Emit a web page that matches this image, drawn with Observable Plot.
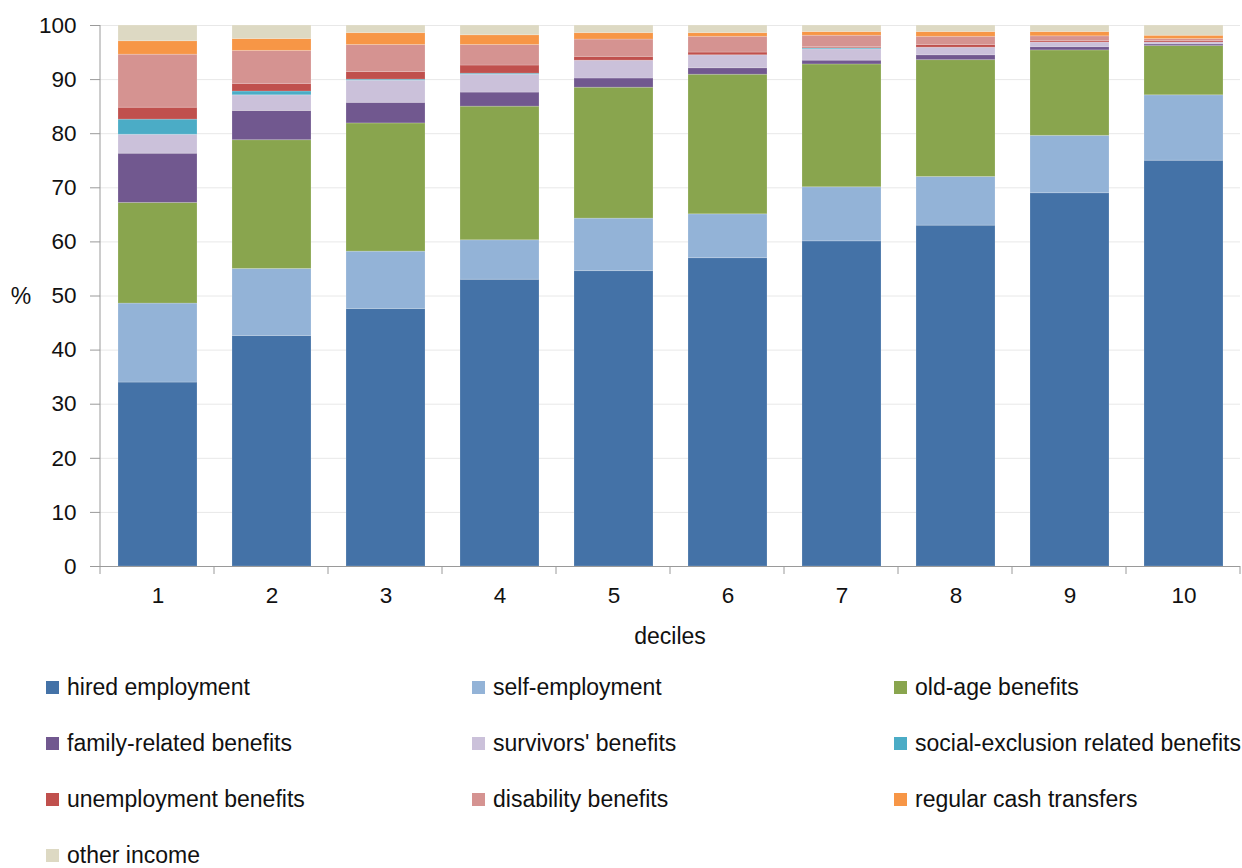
<!DOCTYPE html>
<html><head><meta charset="utf-8">
<script src="https://cdn.jsdelivr.net/npm/d3@7"></script>
<script src="https://cdn.jsdelivr.net/npm/@observablehq/plot@0.6"></script>
<style>
body{margin:0;background:#fff;font-family:"Liberation Sans",Arial,sans-serif;color:#111;}
#chart svg{display:block;}
#legend{display:grid;grid-template-columns:426px 422px 320px;grid-auto-rows:56px;padding-left:46px;width:1196px;margin-top:-1px;}
.item{display:flex;align-items:center;font-size:23px;line-height:24px;white-space:nowrap;}
.sw{width:13px;height:13px;margin-right:8px;flex:none;}
</style>
</head><body>
<div id="chart"></div>
<div id="legend"></div>
<script>
const deciles = ["1","2","3","4","5","6","7","8","9","10"];
const seriesNames = ["hired employment","self-employment","old-age benefits","family-related benefits","survivors' benefits","social-exclusion related benefits","unemployment benefits","disability benefits","regular cash transfers","other income"];
const seriesColors = ["#4472A7","#93B3D7","#89A54E","#71588F","#CBC1DA","#4BACC6","#C0504D","#D59391","#F79646","#DDD9C3"];
const hired      = [34.0, 42.6, 47.6, 53.0, 54.6, 57.0, 60.1, 63.0, 69.0, 75.0];
const selfEmp    = [14.6, 12.4, 10.6, 7.3, 9.7, 8.1, 10.0, 9.0, 10.6, 12.1];
const oldAge     = [18.6, 23.8, 23.7, 24.7, 24.2, 25.8, 22.7, 21.6, 15.8, 9.1];
const family     = [9.1, 5.4, 3.8, 2.6, 1.7, 1.2, 0.7, 0.9, 0.6, 0.3];
const survivors  = [3.5, 2.9, 4.1, 3.3, 3.3, 2.4, 2.1, 1.4, 0.85, 0.35];
const social     = [2.8, 0.7, 0.2, 0.2, 0.0, 0.0, 0.2, 0.0, 0.0, 0.0];
const unemp      = [2.2, 1.4, 1.4, 1.5, 0.7, 0.5, 0.2, 0.5, 0.25, 0.25];
const disability = [9.8, 6.1, 5.0, 3.8, 3.2, 2.9, 2.1, 1.5, 0.9, 0.4];
const cash       = [2.5, 2.2, 2.2, 1.8, 1.2, 0.7, 0.7, 0.9, 0.8, 0.6];
const other      = [2.9, 2.5, 1.4, 1.8, 1.4, 1.4, 1.2, 1.2, 1.2, 1.9];
const yTicks = [0,10,20,30,40,50,60,70,80,90,100];

const seriesValues = [hired, selfEmp, oldAge, family, survivors, social, unemp, disability, cash, other];
const rows = [];
seriesValues.forEach((vals, s) => vals.forEach((v, i) => rows.push({decile: deciles[i], series: seriesNames[s], value: v})));

const W = 1242, H = 660;
const plot = Plot.plot({
  width: W, height: H,
  marginTop: 25, marginBottom: 94, marginLeft: 100, marginRight: 2,
  style: {fontFamily: '"Liberation Sans", Arial, sans-serif', fontSize: "22px", color: "#111", background: "#fff"},
  x: {domain: deciles, paddingInner: 0.31, paddingOuter: 0.155, label: null},
  y: {domain: [0, 100], label: null},
  color: {domain: seriesNames, range: seriesColors},
  marks: [
    Plot.gridY(yTicks, {stroke: "#e8e8e8", strokeOpacity: 1}),
    Plot.barY(rows, {x: "decile", y: "value", fill: "series", order: seriesNames, stroke: "#fff", strokeOpacity: 0.18, strokeWidth: 1}),
    Plot.ruleY([0], {stroke: "#9a9a9a"}),
    Plot.axisY(yTicks, {tickSize: 10, tickPadding: 14, stroke: "#9a9a9a", fontSize: 22.5, label: null}),
    Plot.axisX({tickSize: 0, tickPadding: 21, fontSize: 22.5, label: null})
  ]
});

// Excel-style axis line and between-category tick marks, from the library's scales
const xs = plot.scale("x"), ys = plot.scale("y");
const svg = d3.select(plot);
const x0 = xs.range[0], x1 = xs.range[1];
const yBottom = ys.apply(0), yTop = ys.apply(100);
svg.append("line").attr("x1", x0).attr("x2", x0).attr("y1", yTop).attr("y2", yBottom).attr("stroke", "#9a9a9a");
for (let k = 0; k <= deciles.length; k++) {
  const xx = x0 + k * xs.step;
  svg.append("line").attr("x1", xx).attr("x2", xx).attr("y1", yBottom).attr("y2", yBottom + 8).attr("stroke", "#9a9a9a");
}
svg.append("text").attr("x", 21).attr("y", ys.apply(50)).attr("dy", "0.35em").attr("text-anchor", "middle")
  .attr("font-size", 23).attr("fill", "#111").text("%");
svg.append("text").attr("x", (x0 + x1) / 2).attr("y", 636).attr("dy", "0.35em").attr("text-anchor", "middle")
  .attr("font-size", 23).attr("fill", "#111").text("deciles");

document.getElementById("chart").appendChild(plot);

const legend = d3.select("#legend");
seriesNames.forEach((name, i) => {
  const it = legend.append("div").attr("class", "item");
  it.append("div").attr("class", "sw").style("background", seriesColors[i]);
  it.append("span").text(name);
});
</script>
</body></html>
